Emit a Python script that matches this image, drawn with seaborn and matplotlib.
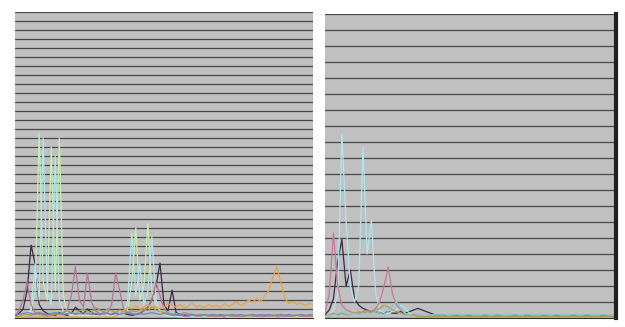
import matplotlib
matplotlib.use("Agg")
import matplotlib.pyplot as plt
import pandas as pd
import seaborn as sns

# ---- left panel series (75 categories) ----
left_dark = [2, 5, 10, 30, 81, 60, 15, 8, 5, 4,
             3, 6, 4, 3, 5, 12, 8, 5, 10, 6,
             4, 3, 3, 2, 4, 6, 3, 5, 4, 3,
             4, 5, 8, 12, 20, 35, 61, 15, 8, 31,
             6, 4, 3, 3, 2, 2, 3, 2, 2, 2,
             2, 3, 2, 2, 2, 3, 2, 2, 2, 2,
             2, 2, 3, 2, 2, 3, 2, 2, 2, 2,
             2, 2, 2, 3, 2]
left_green = [1, 2, 3, 5, 8, 30, 205, 40, 20, 190,
              30, 200, 25, 6, 4, 3, 3, 2, 2, 2,
              3, 2, 2, 3, 2, 2, 3, 4, 10, 40,
              100, 20, 35, 105, 30, 15, 8, 5, 3, 2,
              2, 2, 1, 1, 2, 1, 1, 2, 1, 1,
              1, 1, 2, 1, 1, 1, 2, 1, 1, 1,
              1, 2, 1, 1, 1, 2, 1, 1, 1, 1,
              1, 1, 2, 1, 1]
left_cyan = [1, 1, 2, 4, 10, 60, 20, 200, 30, 15,
             180, 20, 8, 5, 3, 3, 2, 2, 2, 3,
             2, 2, 3, 2, 2, 3, 2, 4, 20, 95,
             25, 60, 15, 30, 90, 20, 6, 3, 2, 2,
             2, 1, 1, 2, 1, 1, 2, 1, 1, 2,
             1, 1, 2, 1, 1, 2, 1, 1, 1, 2,
             1, 1, 2, 1, 1, 1, 2, 1, 1, 1,
             2, 1, 1, 1, 2]
left_mauve = [3, 8, 20, 40, 15, 6, 5, 4, 3, 4,
              5, 4, 6, 10, 25, 57, 20, 12, 50, 18,
              8, 5, 4, 6, 15, 50, 30, 10, 6, 5,
              4, 6, 8, 12, 20, 40, 25, 10, 6, 4,
              3, 3, 2, 2, 3, 2, 2, 3, 2, 2,
              2, 2, 2, 3, 2, 2, 2, 2, 3, 2,
              2, 2, 2, 2, 3, 2, 2, 2, 2, 2,
              3, 2, 2, 2, 2]
left_orange = [1, 1, 1, 1, 1, 1, 1, 1, 1, 1,
               1, 1, 1, 1, 1, 1, 1, 1, 1, 1,
               1, 1, 1, 1, 1, 2, 4, 8, 12, 10,
               14, 10, 12, 15, 11, 13, 10, 12, 16, 14,
               12, 15, 11, 13, 17, 12, 14, 11, 15, 13,
               14, 12, 16, 13, 15, 18, 14, 16, 20, 17,
               22, 18, 25, 30, 45, 57, 40, 22, 16, 18,
               15, 17, 14, 16, 15]
left_olive = [1, 2, 3, 4, 3, 5, 4, 3, 2, 3,
              4, 5, 6, 8, 6, 5, 8, 10, 7, 6,
              12, 9, 7, 10, 8, 6, 9, 7, 6, 8,
              7, 9, 10, 8, 12, 9, 7, 6, 5, 4,
              5, 4, 6, 5, 4, 3, 4, 3, 3, 4,
              3, 2, 3, 3, 2, 3, 3, 2, 3, 2,
              3, 3, 2, 3, 2, 3, 2, 3, 3, 2,
              3, 2, 3, 2, 3]
left_blue = [3, 4, 5, 6, 5, 4, 6, 5, 4, 5,
             6, 5, 4, 5, 6, 4, 5, 6, 5, 4,
             5, 4, 6, 5, 4, 5, 4, 5, 6, 5,
             4, 5, 4, 5, 6, 5, 4, 5, 4, 3,
             4, 3, 4, 3, 4, 3, 3, 4, 3, 4,
             3, 4, 3, 3, 4, 3, 4, 3, 3, 4,
             3, 4, 3, 4, 3, 3, 4, 3, 4, 3,
             3, 4, 3, 3, 4]

# ---- right panel series (70 categories) ----
right_dark = [2, 5, 12, 35, 49, 20, 30, 12, 8, 6,
              5, 4, 4, 3, 3, 4, 3, 3, 4, 3,
              4, 5, 6, 5, 4, 3, 2, 2, 2, 1,
              1, 2, 1, 1, 2, 1, 1, 1, 2, 1,
              1, 2, 1, 1, 1, 2, 1, 1, 2, 1,
              1, 1, 2, 1, 1, 2, 1, 1, 1, 2,
              1, 1, 2, 1, 1, 1, 2, 1, 1, 1]
right_cyan = [1, 2, 5, 15, 115, 60, 20, 10, 20, 107,
              40, 61, 15, 5, 3, 3, 4, 5, 8, 6,
              3, 2, 2, 2, 1, 1, 1, 1, 1, 1,
              1, 1, 1, 1, 1, 1, 1, 1, 1, 1,
              1, 1, 1, 1, 1, 1, 1, 1, 1, 1,
              1, 1, 1, 1, 1, 1, 1, 1, 1, 1,
              1, 1, 1, 1, 1, 1, 1, 1, 1, 1]
right_pink = [3, 15, 53, 20, 8, 5, 4, 3, 3, 4,
              5, 4, 6, 10, 20, 32, 15, 8, 5, 3,
              2, 2, 2, 1, 1, 1, 1, 1, 1, 1,
              1, 1, 1, 1, 1, 1, 1, 1, 1, 1,
              1, 1, 1, 1, 1, 1, 1, 1, 1, 1,
              1, 1, 1, 1, 1, 1, 1, 1, 1, 1,
              1, 1, 1, 1, 1, 1, 1, 1, 1, 1]
right_olive = [1, 2, 3, 2, 3, 2, 2, 3, 4, 3,
               4, 3, 5, 6, 8, 7, 5, 4, 3, 2,
               2, 2, 1, 1, 1, 1, 1, 1, 1, 1,
               1, 1, 1, 1, 1, 1, 1, 1, 1, 1,
               1, 1, 1, 1, 1, 1, 1, 1, 1, 1,
               1, 1, 1, 1, 1, 1, 1, 1, 1, 1,
               1, 1, 1, 1, 1, 1, 1, 1, 1, 1]
right_teal = [1, 1, 2, 3, 4, 3, 2, 3, 2, 3,
              2, 3, 4, 3, 2, 4, 8, 10, 6, 3,
              2, 3, 2, 2, 3, 2, 2, 2, 2, 2,
              2, 2, 2, 2, 2, 2, 2, 2, 2, 2,
              2, 2, 2, 2, 2, 2, 2, 2, 2, 2,
              2, 2, 2, 2, 2, 2, 2, 2, 2, 2,
              2, 2, 2, 2, 2, 2, 2, 2, 2, 2]

left_series = {"dark": left_dark, "green": left_green, "cyan": left_cyan,
               "mauve": left_mauve, "orange": left_orange, "olive": left_olive,
               "blue": left_blue}
right_series = {"dark": right_dark, "cyan": right_cyan, "pink": right_pink,
                "olive": right_olive, "teal": right_teal}

palette = {"dark": "#3a2848", "green": "#c8ecb0", "cyan": "#b0e4ee",
           "mauve": "#b07898", "orange": "#eea040", "olive": "#a8a050",
           "blue": "#7088b8", "pink": "#c87898", "teal": "#88c8c8"}


def long_form(series):
    rows = []
    for name, vals in series.items():
        for i, v in enumerate(vals):
            rows.append({"x": i, "y": v, "series": name})
    return pd.DataFrame(rows)


def style_axis(ax, n, ymax, ystep):
    ax.set_facecolor("#c0c0c0")
    ax.set_xlim(0, n - 1)
    ax.set_ylim(0, ymax)
    ax.set_yticks(range(0, ymax + 1, ystep))
    ax.set_xticks(range(0, n, 2))
    ax.set_yticklabels([])
    ax.set_xticklabels([])
    ax.tick_params(axis="both", length=3, width=0.6, color="#707070")
    ax.grid(axis="y", color="#484848", linewidth=0.9)
    ax.grid(axis="x", visible=False)
    ax.set_axisbelow(True)
    for s in ["top", "left", "right"]:
        ax.spines[s].set_visible(False)
    ax.spines["bottom"].set_color("#303030")
    ax.set_xlabel("")
    ax.set_ylabel("")
    leg = ax.get_legend()
    if leg is not None:
        leg.remove()


sns.set_style("white")
fig = plt.figure(figsize=(6.25, 3.27), dpi=100)
ax1 = fig.add_axes([15 / 625, 9 / 327, 298 / 625, 306 / 327])
ax2 = fig.add_axes([325 / 625, 9 / 327, 291 / 625, 304 / 327])

sns.lineplot(data=long_form(left_series), x="x", y="y", hue="series",
             palette=palette, linewidth=0.9, ax=ax1)
style_axis(ax1, len(left_dark), 340, 10)

sns.lineplot(data=long_form(right_series), x="x", y="y", hue="series",
             palette=palette, linewidth=0.9, ax=ax2)
style_axis(ax2, len(right_dark), 190, 10)
ax2.spines["right"].set_visible(True)
ax2.spines["right"].set_color("#202020")
ax2.spines["right"].set_linewidth(3)

fig.savefig("out.png", dpi=100)
